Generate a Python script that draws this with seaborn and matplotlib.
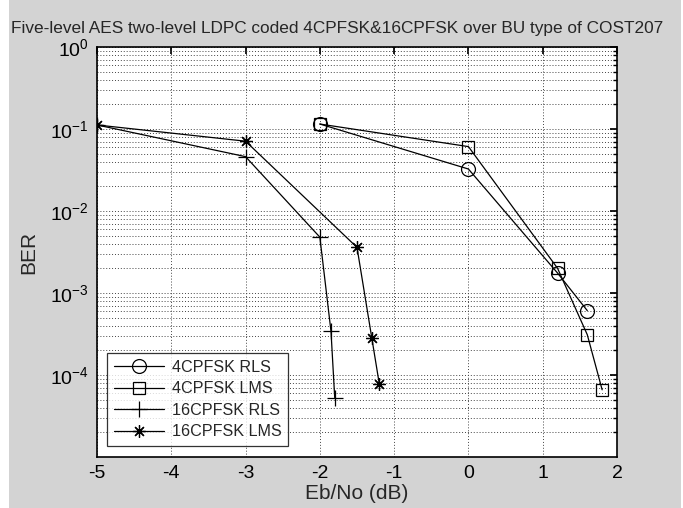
import matplotlib
matplotlib.use("Agg")
import matplotlib.pyplot as plt
import matplotlib.ticker as mticker
from matplotlib.patches import Rectangle
import seaborn as sns
import pandas as pd

# values
rls4_x = [-2, 0, 1.2, 1.6]
rls4_y = [0.115, 0.0325, 0.00175, 0.00061]

lms4_x = [-2, 0, 1.2, 1.6, 1.8]
lms4_y = [0.115, 0.061, 0.002, 0.00031, 0.000066]

rls16_x = [-5, -3, -2, -1.85, -1.8]
rls16_y = [0.112, 0.046, 0.0048, 0.00034, 0.000053]

lms16_x = [-5, -3, -1.5, -1.3, -1.2]
lms16_y = [0.112, 0.071, 0.0036, 0.00028, 0.000078]

series_names = ["4CPFSK RLS", "4CPFSK LMS", "16CPFSK RLS", "16CPFSK LMS"]
x_ticks = [-5, -4, -3, -2, -1, 0, 1, 2]
y_ticks = [1e0, 1e-1, 1e-2, 1e-3, 1e-4]

sns.set_theme(style="white")
plt.rcParams['font.family'] = ['Liberation Sans', 'DejaVu Sans']

fig = plt.figure(figsize=(6.83, 5.08), dpi=100)
fig.patch.set_facecolor("white")
# grey figure panel with a thin white strip on the left
fig.patches.append(Rectangle((9 / 683, 0), 672 / 683, 1, transform=fig.transFigure,
                             facecolor="#d3d3d3", edgecolor="none", zorder=-1))
ax = fig.add_axes([97 / 683, 51 / 508, 520 / 683, 410 / 508])
ax.set_facecolor("white")

data = [(rls4_x, rls4_y), (lms4_x, lms4_y), (rls16_x, rls16_y), (lms16_x, lms16_y)]
markers = ["o", "s", "+", (8, 2, 0)]
msizes = [10, 8, 12, 9]

for (xs, ys), name, m, ms in zip(data, series_names, markers, msizes):
    df = pd.DataFrame({"x": xs, "y": ys})
    sns.lineplot(data=df, x="x", y="y", ax=ax, color="black", linewidth=0.9,
                 marker=m, markersize=ms, markerfacecolor="none",
                 markeredgecolor="black", markeredgewidth=0.9,
                 sort=False, label=name)

ax.set_yscale("log")
ax.set_xlim(-5, 2)
ax.set_ylim(1e-5, 1)
ax.set_xticks(x_ticks)
ax.set_xticklabels([str(t) for t in x_ticks])
ax.set_yticks(y_ticks)
ax.yaxis.set_major_formatter(mticker.LogFormatterSciNotation())
ax.yaxis.set_minor_locator(mticker.LogLocator(base=10, subs=range(2, 10)))
ax.yaxis.set_minor_formatter(mticker.NullFormatter())

ax.grid(True, which="major", axis="both", color="#444444", linestyle=(0, (1, 2)), linewidth=0.7)
ax.grid(True, which="minor", axis="y", color="#444444", linestyle=(0, (1, 2)), linewidth=0.7)

ax.tick_params(axis="both", which="both", direction="in", top=True, right=True,
               labelsize=14, colors="black")
ax.tick_params(axis="both", which="major", length=5, pad=6)
ax.tick_params(axis="y", which="minor", length=3)
for s in ax.spines.values():
    s.set_color("black")
    s.set_linewidth(1.2)

ax.set_xlabel("Eb/No (dB)", fontsize=15, labelpad=1)
ax.set_ylabel("BER", fontsize=15, labelpad=8)
# title sits a bit left of the axes centre in the reference
fig.text(337 / 683, 1 - 28 / 508,
         "Five-level AES two-level LDPC coded 4CPFSK&16CPFSK over BU type of COST207",
         fontsize=12.4, ha="center", va="center")

leg = ax.legend(loc="lower left", bbox_to_anchor=(0.019, 0.027), borderaxespad=0,
                fontsize=11.6, frameon=True, fancybox=False, edgecolor="black",
                handlelength=3.1, borderpad=0.42, labelspacing=0.4, handletextpad=0.5)
leg.get_frame().set_linewidth(0.9)

fig.savefig("out.png", dpi=100, facecolor=fig.get_facecolor())
